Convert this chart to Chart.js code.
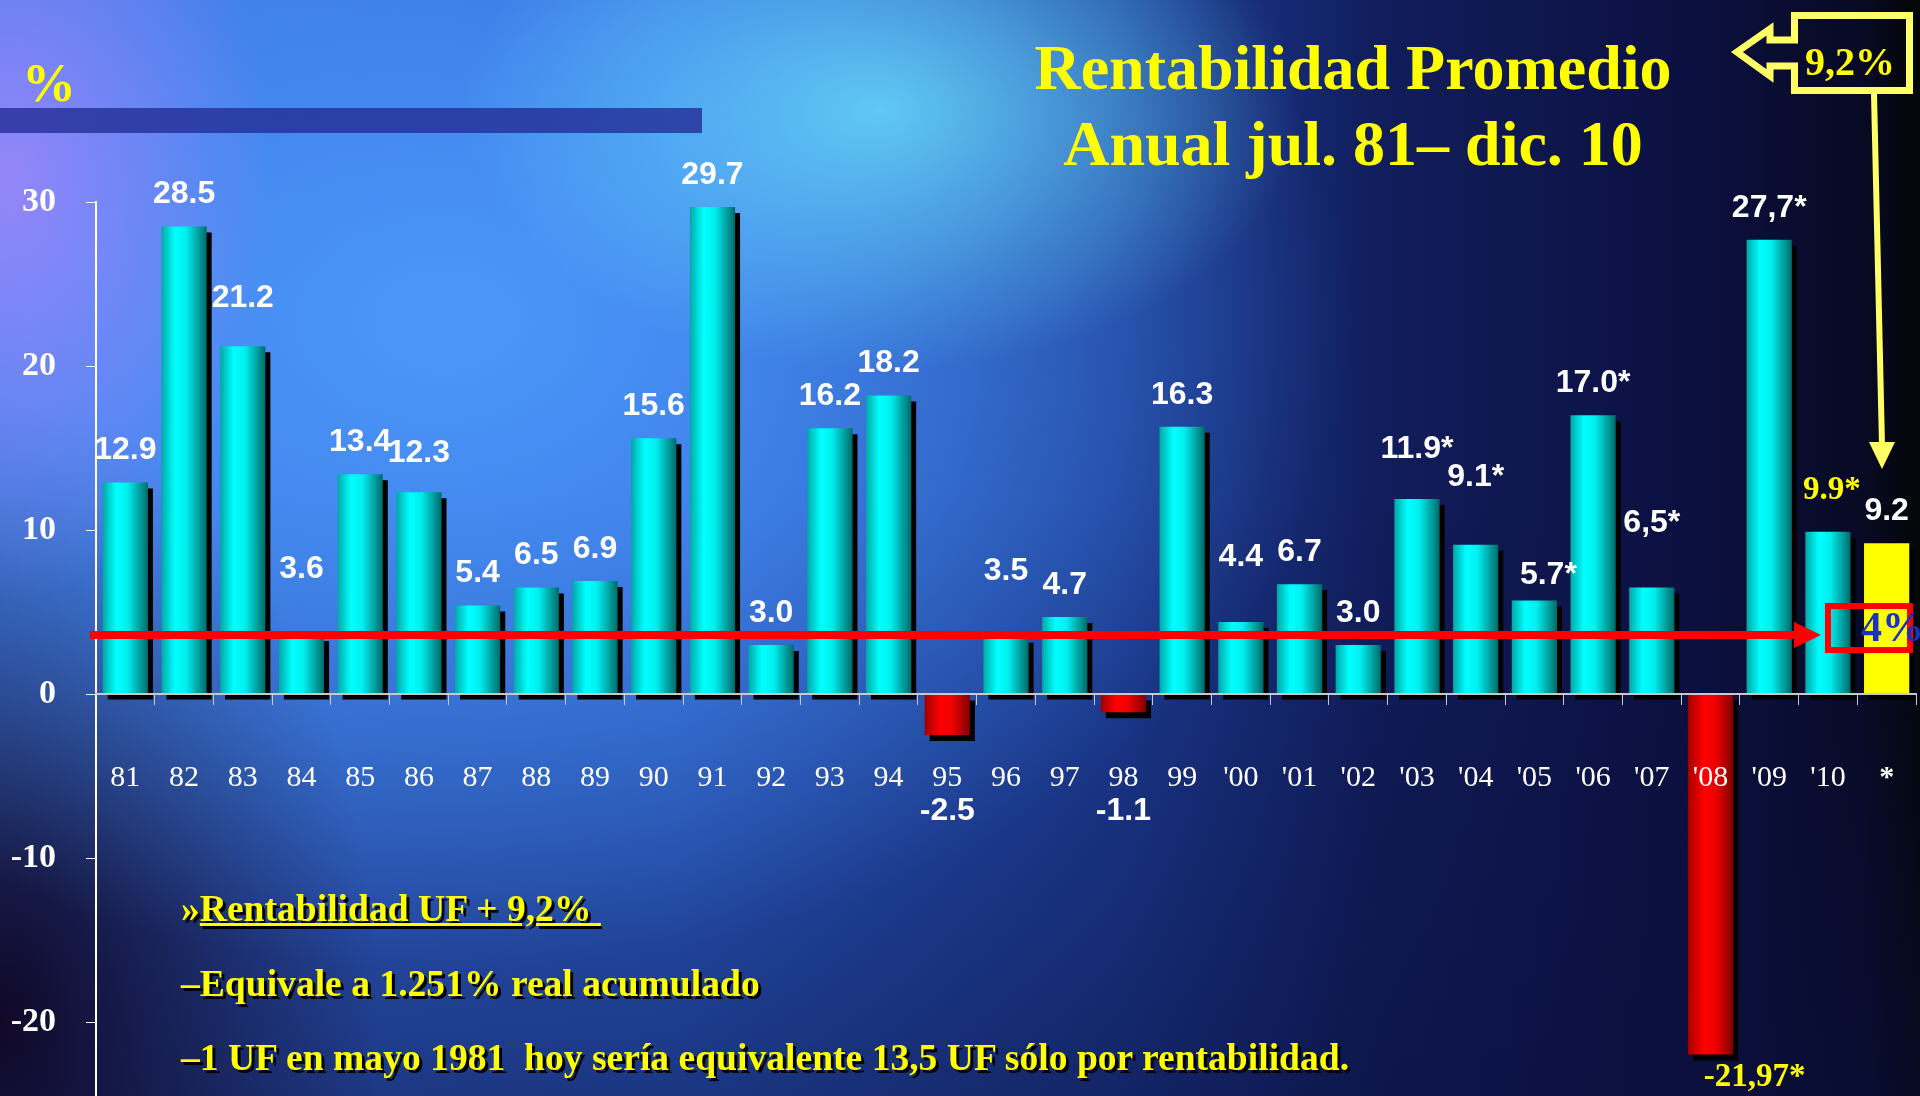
<!DOCTYPE html>
<html lang="es">
<head>
<meta charset="utf-8">
<title>Rentabilidad Promedio Anual</title>
<script src="https://cdn.jsdelivr.net/npm/chart.js@4.4.0/dist/chart.umd.min.js"></script>
<style>
  html, body { margin: 0; padding: 0; width: 1920px; height: 1096px; overflow: hidden; }
  body {
    position: relative;
    font-family: "Liberation Serif", "Times New Roman", serif;
    background:
      radial-gradient(ellipse 420px 260px at 880px 110px, rgba(110,230,255,0.75), rgba(110,230,255,0) 100%),
      radial-gradient(ellipse 260px 420px at 10px 180px, rgba(175,135,255,0.75), rgba(175,135,255,0) 100%),
      radial-gradient(ellipse 900px 650px at 450px 320px, rgba(80,160,255,0.85), rgba(80,160,255,0) 100%),
      radial-gradient(ellipse 380px 620px at 0px 1020px, rgba(15,5,35,0.95), rgba(15,5,35,0) 100%),
      linear-gradient(to bottom, rgba(0,0,0,0) 45%, rgba(10,15,60,0.55) 100%),
      linear-gradient(to right, #3a70e0 0%, #2f66d8 35%, #1d3f9a 58%, #111d5c 72%, #0c1040 88%, #080a24 97%, #030604 100%);
  }
  canvas { position: absolute; left: 0; top: 0; }
  .txt { position: absolute; color: #ffff00; font-weight: bold; white-space: nowrap; line-height: 1; }
  #band { position: absolute; left: 0; top: 108px; width: 702px; height: 25px; background: rgba(35,45,150,0.8); }
  #pct { left: 22px; top: 56px; font-size: 54px; }
  #title { left: 1000px; top: 30px; width: 706px; text-align: center; font-size: 64px; line-height: 76px; }
  .note { left: 181px; font-size: 37.6px; text-shadow: 3px 3px 0 #000; }
  #callout { left: 1800px; top: 42px; width: 100px; text-align: center; font-size: 40px; }
  #four { left: 1861px; top: 606px; font-size: 42px; color: #1a30c8; }
</style>
</head>
<body>
<div id="band"></div>
<div class="txt" id="pct">%</div>
<div class="txt" id="title">Rentabilidad Promedio<br>Anual jul. 81– dic. 10</div>
<canvas id="chart" width="1920" height="1096"></canvas>
<div class="txt note" style="top:890px">»<u>Rentabilidad UF + 9,2%&nbsp;</u></div>
<div class="txt note" style="top:965px">–Equivale a 1.251% real acumulado</div>
<div class="txt note" style="top:1039px">–1 UF en mayo 1981&nbsp; hoy sería equivalente 13,5 UF sólo por rentabilidad.</div>
<div class="txt" id="callout">9,2%</div>
<div class="txt" id="four">4%</div>

<script>
// years (jul. 81 - dic. 10) plus the average bar
const years = ['81','82','83','84','85','86','87','88','89','90','91','92','93','94','95','96','97','98','99',
               "'00","'01","'02","'03","'04","'05","'06","'07","'08","'09","'10",'*'];
const returns = [12.9, 28.5, 21.2, 3.6, 13.4, 12.3, 5.4, 6.5, 6.9, 15.6, 29.7, 3.0, 16.2, 18.2, -2.5, 3.5, 4.7, -1.1, 16.3,
                 4.4, 6.7, 3.0, 11.9, 9.1, 5.7, 17.0, 6.5, -21.97, 27.7, 9.9, 9.2];
const valueLabels = ['12.9','28.5','21.2','3.6','13.4','12.3','5.4','6.5','6.9','15.6','29.7','3.0','16.2','18.2','-2.5','3.5','4.7','-1.1','16.3',
                     '4.4','6.7','3.0','11.9*','9.1*','5.7*','17.0*','6,5*','-21,97*','27,7*','9.9*','9.2'];
const yTicks = [30, 20, 10, 0, -10, -20];
const refLine = 3.6;   // linea roja (4%)

// label tweaks: [dx, distance from bar end]
const labelNudge = { 2:[0,48], 3:[0,66], 5:[0,39], 14:[0,76], 15:[0,66], 17:[0,99], 19:[0,65],
                     22:[0,50], 23:[0,68], 24:[14,25], 26:[0,64], 27:[44,23], 29:[4,41] };
const serifLabels = [27, 29];

function barFill(c) {
  const chart = c.chart, xs = chart.scales.x;
  const v = c.raw;
  if (years[c.dataIndex] === '*') return '#ffff00';
  const neg = v < 0;
  if (!xs || !chart.chartArea) return neg ? '#ff0000' : '#00ffff';
  const cx = xs.getPixelForValue(c.dataIndex);
  const half = xs.width / years.length * 0.77 / 2;
  const g = chart.ctx.createLinearGradient(cx - half, 0, cx + half, 0);
  if (neg) {
    g.addColorStop(0, '#a00000'); g.addColorStop(0.35, '#ff0000');
    g.addColorStop(0.6, '#f00000'); g.addColorStop(1, '#800000');
  } else {
    g.addColorStop(0, '#00a8a8'); g.addColorStop(0.3, '#00ffff');
    g.addColorStop(0.55, '#00eeee'); g.addColorStop(1, '#006a6a');
  }
  return g;
}

const extras = {
  id: 'extras',
  beforeDatasetsDraw(chart) {
    const ctx = chart.ctx;
    ctx.save();
    ctx.shadowColor = '#000';
    ctx.shadowOffsetX = 5;
    ctx.shadowOffsetY = 6;
    ctx.shadowBlur = 0;
  },
  afterDatasetsDraw(chart) {
    const ctx = chart.ctx;
    ctx.restore();
    const meta = chart.getDatasetMeta(0);

    // value labels
    ctx.save();
    ctx.textAlign = 'center';
    ctx.textBaseline = 'middle';
    meta.data.forEach((el, i) => {
      const n = labelNudge[i] || [0, 32];
      const v = returns[i];
      const y = v >= 0 ? el.y - n[1] : el.y + n[1];
      if (serifLabels.includes(i)) {
        ctx.font = 'bold 33px "Liberation Serif"';
        ctx.fillStyle = '#ffff00';
      } else {
        ctx.font = 'bold 32px "Liberation Sans"';
        ctx.fillStyle = '#ffffff';
      }
      ctx.fillText(valueLabels[i], el.x + n[0], y);
    });
    ctx.restore();
  },
  afterDraw(chart) {
    const ctx = chart.ctx;
    const ys = chart.scales.y;

    // red reference arrow + box
    const ry = ys.getPixelForValue(refLine);
    ctx.save();
    ctx.strokeStyle = '#ff0000';
    ctx.fillStyle = '#ff0000';
    ctx.lineWidth = 8;
    ctx.beginPath();
    ctx.moveTo(90, ry);
    ctx.lineTo(1798, ry);
    ctx.stroke();
    ctx.beginPath();
    ctx.moveTo(1794, ry - 13);
    ctx.lineTo(1821, ry);
    ctx.lineTo(1794, ry + 13);
    ctx.closePath();
    ctx.fill();
    ctx.lineWidth = 6;
    ctx.strokeRect(1828, ry - 29, 82, 44);
    ctx.restore();

    // callout
    ctx.save();
    ctx.strokeStyle = '#ffff66';
    ctx.fillStyle = '#ffff66';
    ctx.lineJoin = 'miter';
    ctx.lineWidth = 7;
    ctx.beginPath();
    ctx.moveTo(1794.5, 15.5);
    ctx.lineTo(1909.5, 15.5);
    ctx.lineTo(1909.5, 90.5);
    ctx.lineTo(1794.5, 90.5);
    ctx.lineTo(1794.5, 66);
    ctx.lineTo(1770, 66);
    ctx.lineTo(1770, 76);
    ctx.lineTo(1737, 52);
    ctx.lineTo(1770, 29);
    ctx.lineTo(1770, 40);
    ctx.lineTo(1794.5, 40);
    ctx.closePath();
    ctx.stroke();
    // pointer down to the average bar
    ctx.lineWidth = 6;
    ctx.beginPath();
    ctx.moveTo(1874, 94);
    ctx.lineTo(1882, 446);
    ctx.stroke();
    ctx.beginPath();
    ctx.moveTo(1869, 442);
    ctx.lineTo(1895, 442);
    ctx.lineTo(1882, 469);
    ctx.closePath();
    ctx.fill();
    ctx.restore();
  }
};

new Chart(document.getElementById('chart'), {
  type: 'bar',
  data: {
    labels: years,
    datasets: [{
      data: returns,
      backgroundColor: barFill,
      borderWidth: 0,
      barPercentage: 0.77,
      categoryPercentage: 1
    }]
  },
  options: {
    responsive: false,
    animation: false,
    devicePixelRatio: 1,
    layout: { padding: { top: 202, right: 4, left: 0, bottom: 0 } },
    plugins: { legend: { display: false }, tooltip: { enabled: false } },
    scales: {
      x: {
        position: { y: 0 },
        afterFit(s) { s.paddingLeft = 0; s.paddingRight = 0; },
        grid: { offset: true, drawOnChartArea: false, drawTicks: true, tickLength: 10, color: '#c8c8c8' },
        border: { display: true, color: '#c8c8c8', width: 2, z: 1 },
        ticks: {
          z: 1,
          color: '#ffffff', padding: 56, autoSkip: false, maxRotation: 0,
          font: c => ({ family: 'Liberation Serif', size: 30, weight: years[c.index] === '*' ? 'bold' : 'normal' })
        }
      },
      y: {
        min: -24.5,
        max: 30,
        afterBuildTicks(s) { s.ticks = yTicks.map(v => ({ value: v })); },
        afterFit(s) { s.width = 96; s.paddingTop = 0; s.paddingBottom = 0; },
        grid: { drawOnChartArea: false, tickLength: 10, color: '#ffffff' },
        border: { display: true, color: '#ffffff', width: 2 },
        ticks: { color: '#ffffff', padding: 30, font: { family: 'Liberation Serif', size: 34, weight: 'bold' } }
      }
    }
  },
  plugins: [extras]
});
</script>
</body>
</html>
